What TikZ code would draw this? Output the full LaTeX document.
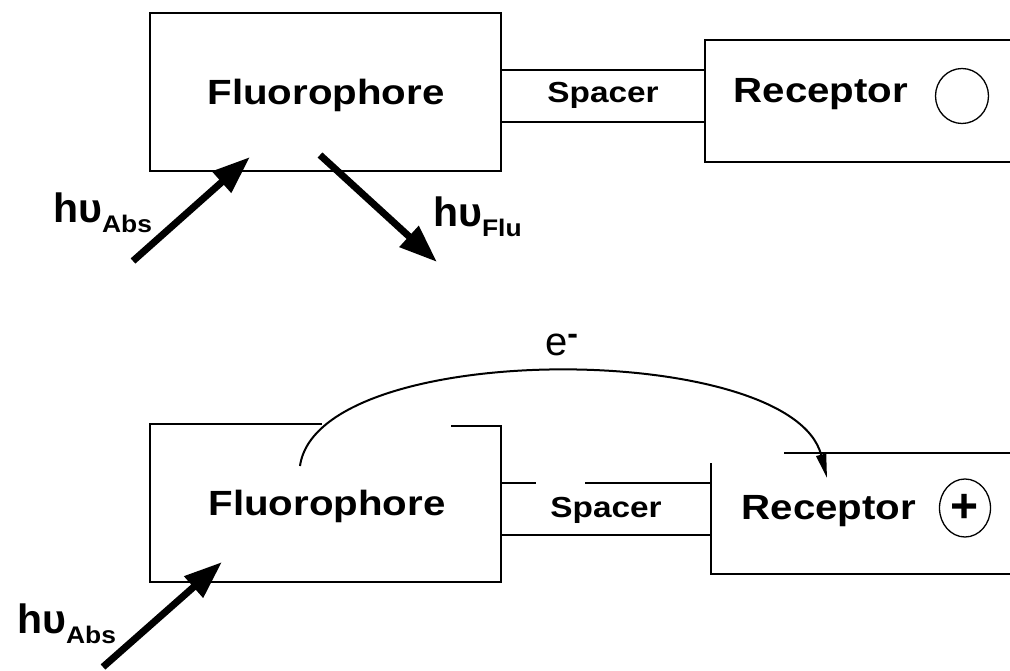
\documentclass[tikz,border=0pt]{standalone}
\usepackage{fontspec}
\usepackage{graphicx}
\setmainfont{Liberation Sans}
\usetikzlibrary{arrows.meta,shapes.geometric}

% label fonts
\newcommand{\partlabel}[1]{\fontsize{35}{40}\selectfont\bfseries\scalebox{1.15}[1]{#1}}
\newcommand{\spacerlabel}[1]{\fontsize{29}{34}\selectfont\bfseries\scalebox{1.15}[1]{#1}}
\newcommand{\photon}[1]{{\fontsize{41}{44}\selectfont\bfseries hυ}\raisebox{-10pt}{\fontsize{24}{28}\selectfont\bfseries\scalebox{1.1}[1]{#1}}}

\begin{document}
\begin{tikzpicture}[x=1pt,y=-1pt,
  frame/.style={line width=1.4pt},
  txt/.style={anchor=base, inner sep=0pt},
  lbl/.style={anchor=base west, inner sep=0pt},
  site/.style={ellipse, draw, line width=1.3pt, inner sep=0pt},
  photonarrow/.style={line width=7pt, -{Triangle[length=38pt,width=27pt]}},
  transfer/.style={line width=2pt, -{Triangle[length=24pt,width=10pt]}}]

\useasboundingbox (0,0) rectangle (1010,671);

% ---------- upper panel: free receptor ----------
\draw[frame] (150,13) rectangle (501,171);
\draw[frame] (501,70) -- (705,70);
\draw[frame] (501,122) -- (705,122);
\draw[frame] (1010,40) -- (705,40) -- (705,162) -- (1010,162);

\node[txt] (fluoroA) at (326,105) {\partlabel{Fluorophore}};
\node[txt] (spacerA) at (603,103) {\spacerlabel{Spacer}};
\node[txt] (receptorA) at (821,103) {\partlabel{Receptor}};
\node[site, minimum width=53pt, minimum height=55pt] (siteA) at (962,96) {};

\coordinate (absA0) at (133,261);
\coordinate (absA1) at (250,157);
\coordinate (fluA0) at (320,155);
\coordinate (fluA1) at (437,262);
\draw[photonarrow] (absA0) -- (absA1);
\draw[photonarrow] (fluA0) -- (fluA1);
\node[lbl] (habsA) at (53,223) {\photon{Abs}};
\node[lbl] (hfluA) at (433,227) {\photon{Flu}};

% ---------- lower panel: bound receptor, electron transfer ----------
\draw[frame] (322,424) -- (150,424) -- (150,582) -- (501,582) -- (501,426) -- (451,426);
\draw[frame] (501,483) -- (536,483);
\draw[frame] (585,483) -- (711,483);
\draw[frame] (501,535) -- (711,535);
\draw[frame] (784,453) -- (1010,453);
\draw[frame] (711,463) -- (711,574) -- (1010,574);

\node[txt] (fluoroB) at (327,515) {\partlabel{Fluorophore}};
\node[txt] (spacerB) at (606,517) {\spacerlabel{Spacer}};
\node[txt] (receptorB) at (829,519) {\partlabel{Receptor}};
\node[site, minimum width=51pt, minimum height=58pt] (siteB) at (965,508) {\fontsize{48}{52}\selectfont\bfseries +};

\coordinate (absB0) at (103,667);
\coordinate (absB1) at (222,562);
\draw[photonarrow] (absB0) -- (absB1);
\node[lbl] (habsB) at (17,633) {\photon{Abs}};

\coordinate (eStart) at (300,466);
\coordinate (eEnd) at (827,478);
\draw[transfer] (eStart) .. controls (318,338) and (792,340) .. (eEnd);
\node[lbl] (elabel) at (545,355) {\fontsize{40}{44}\selectfont e\raisebox{11pt}{\fontsize{32}{34}\selectfont\bfseries -}};

\end{tikzpicture}
\end{document}
